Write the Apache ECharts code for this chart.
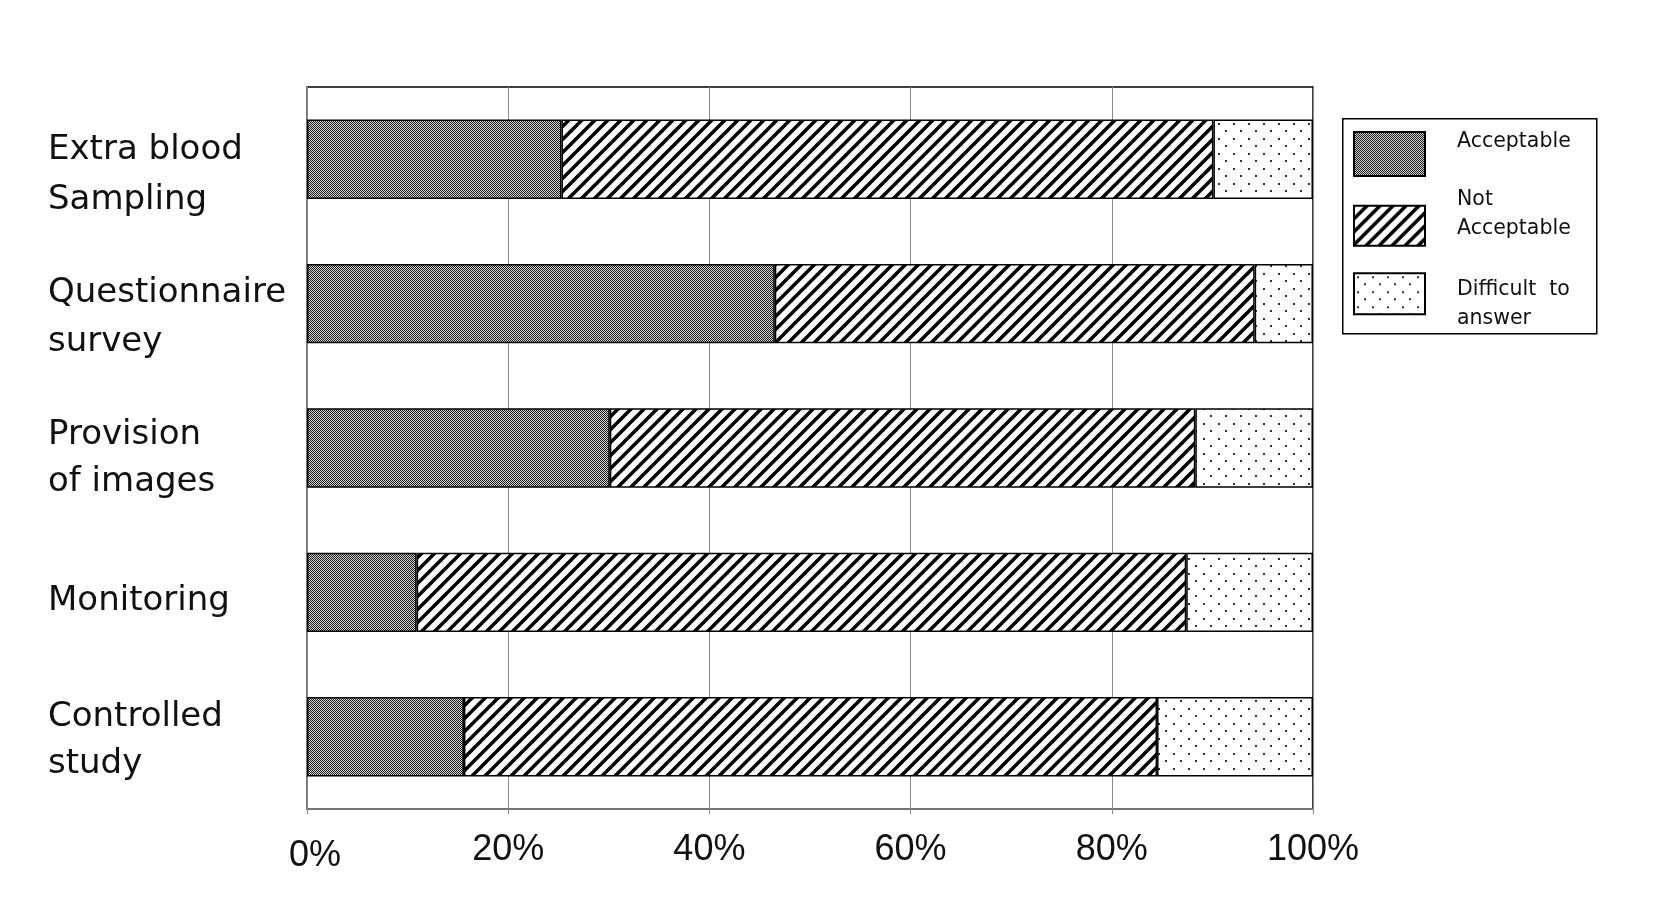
<!DOCTYPE html>
<html>
<head>
<meta charset="utf-8">
<script src="https://cdn.jsdelivr.net/npm/echarts@6/dist/echarts.min.js"></script>
<style>
html,body{margin:0;padding:0;background:#fff;}
#chart{width:1654px;height:901px;}
</style>
</head>
<body>
<div id="chart"></div>
<script>
// ---- data ----
const categories = ['Extra blood\nSampling', 'Questionnaire\nsurvey', 'Provision\nof images', 'Monitoring', 'Controlled\nstudy'];
const seriesNames = ['Acceptable', 'Not\nAcceptable', 'Difficult  to\nanswer'];
const acceptable = [25.3, 46.5, 30.1, 10.9, 15.6];
const notAcceptable = [64.8, 47.7, 58.2, 76.5, 68.9];
const difficult = [9.9, 5.8, 11.7, 12.6, 15.5];
const xTicks = [0, 20, 40, 60, 80, 100];

// ---- patterns ----
function checkerPattern() {
  const c = document.createElement('canvas');
  c.width = 2; c.height = 2;
  const g = c.getContext('2d');
  g.fillStyle = '#d6d6d6'; g.fillRect(0, 0, 2, 2);
  g.fillStyle = '#1a1a1a'; g.fillRect(0, 0, 1, 1); g.fillRect(1, 1, 1, 1);
  return c;
}
function stripePattern() {
  const s = 13;
  const c = document.createElement('canvas');
  c.width = s; c.height = s;
  const g = c.getContext('2d');
  g.fillStyle = '#fff'; g.fillRect(0, 0, s, s);
  g.strokeStyle = '#000'; g.lineWidth = 3.5;
  for (const k of [0, s, 2 * s]) {
    g.beginPath();
    g.moveTo(k - s - 2, s + 2);
    g.lineTo(k + 2, -2);
    g.stroke();
  }
  return c;
}
function dotPattern() {
  const s = 15;
  const c = document.createElement('canvas');
  c.width = s; c.height = s;
  const g = c.getContext('2d');
  g.fillStyle = '#fff'; g.fillRect(0, 0, s, s);
  g.fillStyle = '#333';
  g.fillRect(3, 3, 2, 2);
  g.fillRect(10, 10, 2, 2);
  return c;
}
const patterns = [checkerPattern(), stripePattern(), dotPattern()];
const dataSets = [acceptable, notAcceptable, difficult];

// legend placement (one legend block per item)
const legendTops = [128.7, 184.6, 253.7];
const legendIconH = [44, 40, 41];
const legendFmt = [
  n => n + '\n{e1| }',
  n => n + '\n{e2| }',
  n => '{e3| }\n' + n
];

// per-label vertical fine-tuning of the category labels
const labelShift = [32, 29, 21, 17, 8];      // spacer line height
const labelLineH = [50, 49, 46.5, 50, 46.5]; // line spacing

const yRich = {};
labelShift.forEach((h, i) => {
  yRich['s' + i] = {fontSize: 8, lineHeight: h};
  yRich['t' + i] = {fontFamily: 'DejaVu Sans', fontSize: 34, color: '#111', lineHeight: labelLineH[i]};
});

const chart = echarts.init(document.getElementById('chart'), null, {renderer: 'canvas'});
const option = {
  backgroundColor: '#fff',
  animation: false,
  grid: {left: 307, right: 341, top: 87, bottom: 92, show: true, borderColor: '#000', borderWidth: 1.5,
         containLabel: false, outerBoundsMode: 'none'},
  legend: seriesNames.map((name, i) => ({
    orient: 'vertical',
    left: 1353, top: legendTops[i], padding: 0,
    icon: 'rect',
    itemWidth: 71, itemHeight: legendIconH[i],
    data: [name],
    formatter: legendFmt[i],
    textStyle: {
      fontFamily: 'DejaVu Sans', fontSize: 20.5, color: '#111', lineHeight: i === 0 ? 25 : 29.5, padding: [0, 0, 0, 27],
      rich: {
        e1: {fontSize: 8, lineHeight: 25.4},
        e2: {fontSize: 8, lineHeight: 23.2},
        e3: {fontSize: 8, lineHeight: 21}
      }
    }
  })),
  graphic: [{
    type: 'rect', left: 1342, top: 118, z: -1,
    shape: {width: 254, height: 215},
    style: {fill: '#fff', stroke: '#000', lineWidth: 1.5}
  }],
  xAxis: {
    type: 'value', min: 0, max: 100, interval: 20,
    axisLine: {show: true, lineStyle: {color: '#888', width: 1.5}},
    axisTick: {show: true, length: 5, lineStyle: {color: '#888'}},
    splitLine: {show: true, lineStyle: {color: '#8c8c8c', width: 1}},
    axisLabel: {
      margin: 23, fontFamily: 'Liberation Sans', fontSize: 36, color: '#111',
      formatter: v => (xTicks.indexOf(v) < 0 ? '' : (v === 0 ? '{z|0%}' : v + '%')),
      rich: {z: {fontFamily: 'Liberation Sans', fontSize: 36, color: '#111', padding: [6, 0, 0, 16]}}
    }
  },
  yAxis: {
    type: 'category', inverse: true, data: categories,
    axisLine: {show: true, lineStyle: {color: '#888', width: 1.5}},
    axisTick: {show: false},
    axisLabel: {
      align: 'left', margin: 259, fontFamily: 'DejaVu Sans', fontSize: 34, color: '#111',
      lineHeight: 50,
      formatter: (v, i) => '{s' + i + '| }\n' + v.split('\n').map(l => '{t' + i + '|' + l + '}').join('\n'),
      rich: yRich
    }
  },
  series: seriesNames.map((name, i) => ({
    name: name, type: 'bar', stack: 'all', barCategoryGap: '45%',
    data: dataSets[i],
    itemStyle: {color: {image: patterns[i], repeat: 'repeat'}, borderColor: '#000', borderWidth: 1.5}
  }))
};
chart.setOption(option);
</script>
</body>
</html>
